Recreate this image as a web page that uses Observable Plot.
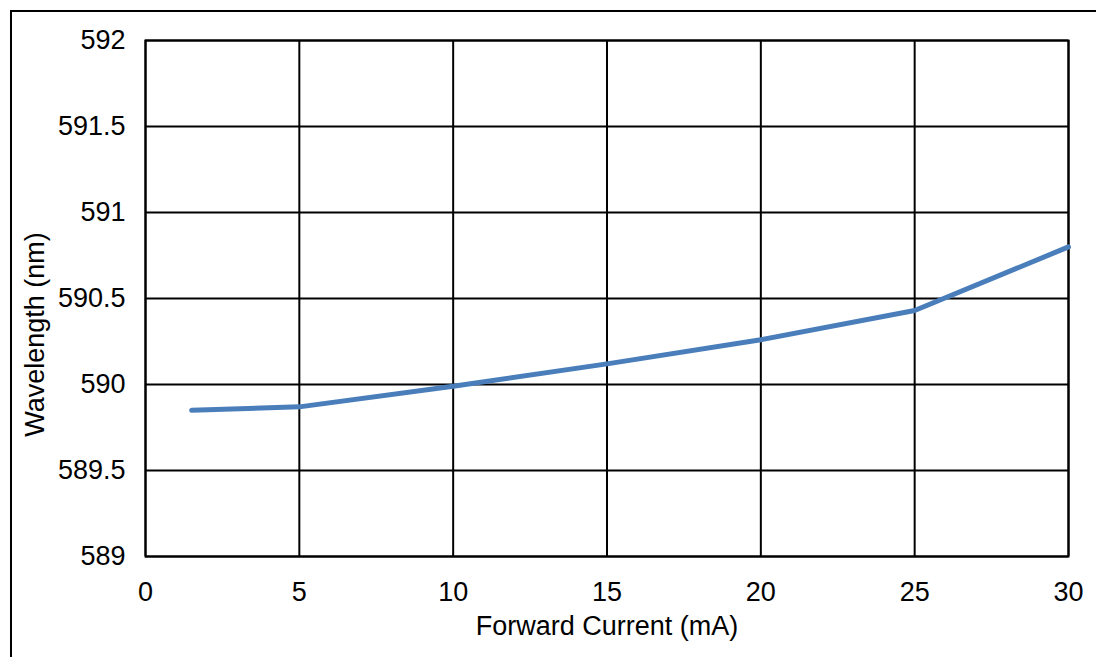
<!DOCTYPE html>
<html>
<head>
<meta charset="utf-8">
<script src="https://cdn.jsdelivr.net/npm/d3@7"></script>
<script src="https://cdn.jsdelivr.net/npm/@observablehq/plot@0.6"></script>
<style>
  html, body { margin: 0; padding: 0; background: #fff; }
  #wrap { position: relative; width: 1096px; height: 657px; overflow: hidden; }
  #border { position: absolute; left: 10px; top: 10px; width: 1100px; height: 660px; border: 2px solid #000; box-sizing: border-box; pointer-events: none; }
  #chart { position: absolute; left: 0; top: 0; }
</style>
</head>
<body>
<div id="wrap"><div id="chart"></div><div id="border"></div></div>
<script>
const current = [1.5, 5, 10, 15, 20, 25, 30];
const wavelength = [589.85, 589.87, 589.99, 590.12, 590.26, 590.43, 590.80];
const xTicks = [0, 5, 10, 15, 20, 25, 30];
const yTicks = [589, 589.5, 590, 590.5, 591, 591.5, 592];
const xTitle = "Forward Current (mA)";
const yTitle = "Wavelength (nm)";

const data = current.map((c, i) => ({current: c, wavelength: wavelength[i]}));
const font = "Liberation Sans, Arial, sans-serif";

const chart = Plot.plot({
  width: 1096,
  height: 657,
  marginLeft: 145,
  marginRight: 28,
  marginTop: 40,
  marginBottom: 101,
  style: {fontFamily: font, background: "transparent", color: "#000"},
  x: {domain: [0, 30]},
  y: {domain: [589, 592]},
  marks: [
    Plot.ruleX(xTicks, {stroke: "#000", strokeWidth: 2, strokeOpacity: 1}),
    Plot.ruleY(yTicks, {stroke: "#000", strokeWidth: 2, strokeOpacity: 1}),
    Plot.frame({stroke: "#000", strokeWidth: 2}),
    Plot.axisX(xTicks, {tickSize: 0, tickPadding: 25, fontSize: 27, label: null, tickFormat: d => String(d), fill: "#000"}),
    Plot.axisY(yTicks, {tickSize: 0, tickPadding: 20, fontSize: 27, label: null, tickFormat: d => String(d), fill: "#000"}),
    Plot.text([xTitle], {frameAnchor: "bottom", dy: 78, fontSize: 27, fill: "#000"}),
    Plot.text([yTitle], {frameAnchor: "left", textAnchor: "middle", dx: -110, dy: 36, rotate: -90, fontSize: 27, fill: "#000"}),
    Plot.line(data, {x: "current", y: "wavelength", stroke: "#4a7ebb", strokeWidth: 5, strokeLinejoin: "round"})
  ]
});
document.getElementById("chart").appendChild(chart);
</script>
</body>
</html>
